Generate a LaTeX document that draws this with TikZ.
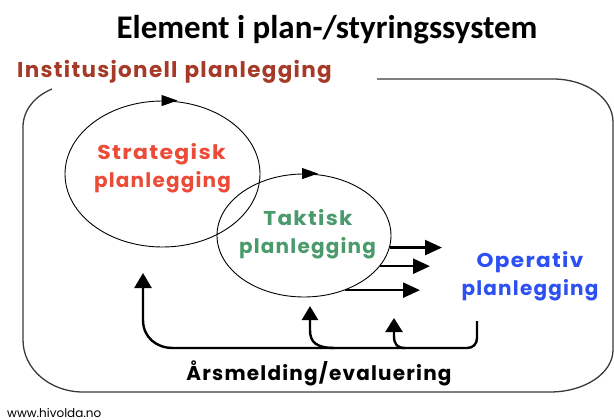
\documentclass[tikz,border=0pt]{standalone}
\usepackage{fontspec}
\setmainfont{Carlito}
\newfontfamily\comic{Poppins}[LetterSpace=6]
\newfontfamily\gothic{Poppins}
\usetikzlibrary{arrows.meta,shapes.geometric}
\definecolor{brn}{HTML}{A63A28}
\definecolor{redc}{HTML}{EB4B37}
\definecolor{grnc}{HTML}{4A9A6C}
\definecolor{bluc}{HTML}{2C50F2}
\definecolor{frame}{HTML}{3A3A3A}
\begin{document}
\begin{tikzpicture}[x=1pt,y=-1pt,
  ell/.style={draw=black, line width=0.9pt, ellipse, inner sep=0pt},
  lbl/.style={font=\comic\bfseries\fontsize{20}{26}\selectfont, inner sep=0pt, anchor=base},
  fwd/.style={line width=2.4pt, -{Triangle[length=17pt,width=15pt]}},
  fb/.style={line width=2.4pt},
  toparrow/.style={line width=0.9pt, -{Triangle[length=16pt,width=11pt]}}]
\useasboundingbox (0,0) rectangle (614,420);
% title
\node[font=\bfseries\fontsize{33}{36}\selectfont, inner sep=0pt, anchor=base] (title) at (327,39) {Element i plan-/styringssystem};
\node[font=\comic\bfseries\fontsize{21.5}{26}\selectfont, text=brn, inner sep=0pt, anchor=base west] (inst) at (17,78) {Institusjonell\hspace{7pt}planlegging};
% frame
\draw[frame, line width=1.3pt] (377,79) -- (553,79) .. controls (586,79) and (613,98) .. (613,122) -- (613,350) .. controls (613,373) and (585,392) .. (550,392) -- (83,392) .. controls (50,392) and (23,369) .. (23,340) -- (23,127) .. controls (23,110) and (35,96) .. (52,89);
% ellipses
\node[ell, minimum width=195pt, minimum height=146pt] (s) at (162.5,174) {};
\node[ell, minimum width=174pt, minimum height=123pt] (t) at (304,235.5) {};
\draw[toparrow] (s.north) -- ++(15,0);
\draw[toparrow] (t.north) -- ++(14,0);
% labels
\node[lbl, text=redc, xscale=1.1] (s1) at (161.5,159) {Strategisk};
\node[lbl, text=redc] (s2) at (162.5,187) {planlegging};
\node[lbl, text=grnc, xscale=1.08] (t1) at (308,225) {Taktisk};
\node[lbl, text=grnc] (t2) at (307.5,253) {planlegging};
\node[lbl, text=bluc, xscale=1.08] (o1) at (530,267) {Operativ};
\node[lbl, text=bluc] (o2) at (530,295) {planlegging};
\node[lbl, text=black] (ars) at (319,380) {Årsmelding/evaluering};
\node[font=\gothic\fontsize{12}{14}\selectfont, inner sep=0pt, anchor=base west] (www) at (7,417) {www.hivolda.no};
% forward arrows
\coordinate (a1e) at (442,248);
\coordinate (a2e) at (430,267);
\coordinate (a3e) at (420,290);
\draw[fwd] (t.-8.4) -- (t.-8.4 -| a1e);
\draw[fwd] (t.-22.9) -- (t.-22.9 -| a2e);
\draw[fwd] (t.-53.7) -- (t.-53.7 -| a3e);
% feedback
\coordinate (fbL) at (143,273);
\coordinate (fbR) at (477,321);
\coordinate (fbM) at (310,306);
\coordinate (fbS) at (394,318);
\draw[fb, {Triangle[length=15pt,width=17pt]}-] (fbL) -- (143,320) .. controls (143,337) and (156,348) .. (173,348) -- (467,348) .. controls (473,348) and (477,344) .. (477,338) -- (fbR);
\draw[fb, -{Triangle[length=14pt,width=16pt]}] (335,348) .. controls (316,348) and (310,342) .. (310,330) -- (fbM);
\draw[fb, -{Triangle[length=14pt,width=17pt]}] (405,348) .. controls (397,348) and (394,344) .. (394,336) -- (fbS);
\end{tikzpicture}
\end{document}
